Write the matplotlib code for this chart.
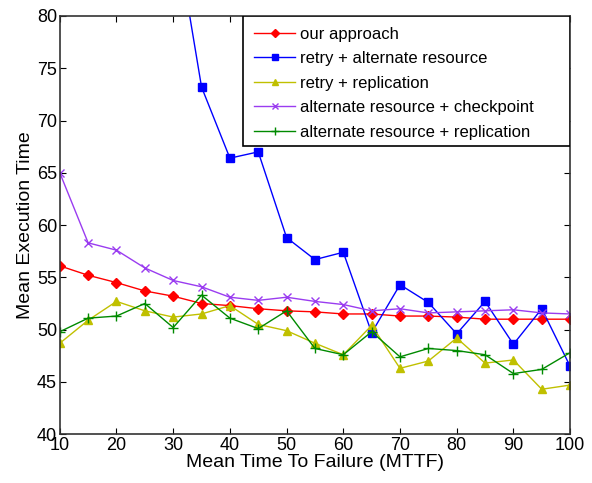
import matplotlib
matplotlib.use('Agg')
import matplotlib.pyplot as plt
from matplotlib.patches import Rectangle

plt.rcParams['font.family'] = ['Liberation Sans', 'DejaVu Sans']

mttf = [10, 15, 20, 25, 30, 35, 40, 45, 50, 55, 60, 65, 70, 75, 80, 85, 90, 95, 100]
our_approach = [56.1, 55.2, 54.5, 53.7, 53.2, 52.5, 52.3, 52.0, 51.8, 51.7, 51.5,
                51.5, 51.3, 51.3, 51.2, 51.0, 51.0, 51.0, 51.0]
retry_alt = [140.0, 125.0, 112.0, 100.0, 89.5, 73.2, 66.4, 67.0, 58.8, 56.7, 57.4,
             49.7, 54.3, 52.6, 49.6, 52.7, 48.6, 52.0, 46.5]
retry_repl = [48.7, 50.9, 52.7, 51.8, 51.2, 51.5, 52.3, 50.5, 49.9, 48.7, 47.6,
              50.4, 46.3, 47.0, 49.2, 46.8, 47.1, 44.3, 44.7]
alt_ckpt = [65.0, 58.3, 57.6, 55.9, 54.7, 54.1, 53.1, 52.8, 53.1, 52.7, 52.4,
            51.8, 52.0, 51.6, 51.7, 51.8, 51.9, 51.6, 51.5]
alt_repl = [49.8, 51.1, 51.3, 52.5, 50.2, 53.3, 51.1, 50.1, 51.8, 48.2, 47.6,
            49.8, 47.4, 48.2, 48.0, 47.6, 45.8, 46.2, 47.8]

fig = plt.figure(figsize=(5.92, 4.83), dpi=100)
ax = fig.add_axes([0.101, 0.101, 0.862, 0.866])

ax.plot(mttf, our_approach, color='#ff0000', marker='D', markersize=5, lw=1, label='our approach')
ax.plot(mttf, retry_alt, color='#0000ff', marker='s', markersize=6, lw=1, label='retry + alternate resource')
ax.plot(mttf, retry_repl, color='#c0c000', marker='^', markersize=6, lw=1, label='retry + replication')
ax.plot(mttf, alt_ckpt, color='#9a3cf0', marker='x', markersize=6, lw=1, label='alternate resource + checkpoint')
ax.plot(mttf, alt_repl, color='#008a00', marker='+', markersize=7, lw=1, label='alternate resource + replication')

ax.set_xlim(10, 100)
ax.set_ylim(40, 80)
ax.set_xticks(range(10, 101, 10))
ax.set_yticks(range(40, 81, 5))
ax.tick_params(direction='in', top=True, right=True, labelsize=13, length=4, pad=2)
for s in ax.spines.values():
    s.set_linewidth(1.2)
    s.set_color('#333333')
ax.set_xlabel('Mean Time To Failure (MTTF)', fontsize=14, labelpad=0)
ax.set_ylabel('Mean Execution Time', fontsize=14, labelpad=2)

# MATLAB-style legend box: wider than its contents
ax.add_patch(Rectangle((0.359, 0.689), 0.641, 0.311, transform=ax.transAxes,
                       facecolor='white', edgecolor='black', lw=1.2, zorder=4))
leg = ax.legend(loc='upper left', bbox_to_anchor=(0.359, 1.0), fontsize=12, frameon=False,
                borderaxespad=0.0, handlelength=2.5, labelspacing=0.57, borderpad=0.65,
                handletextpad=0.3, markerscale=0.8)
leg.set_zorder(5)

fig.savefig('out.png', dpi=100)
